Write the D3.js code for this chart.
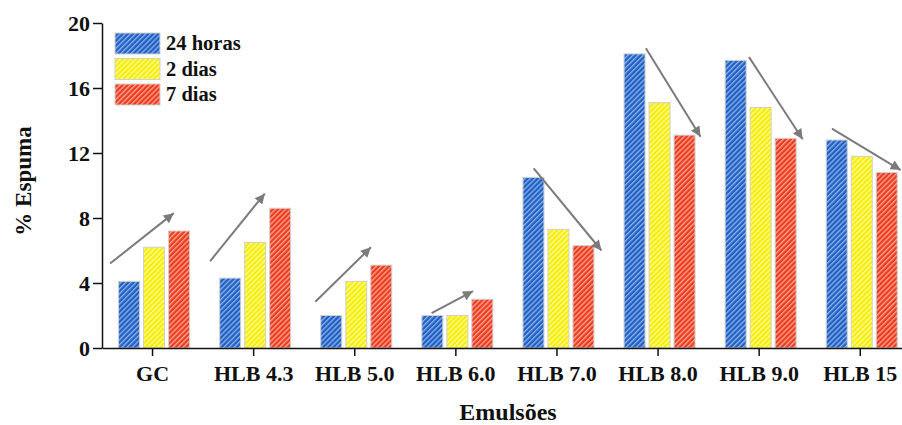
<!DOCTYPE html>
<html><head><meta charset="utf-8">
<script src="https://cdn.jsdelivr.net/npm/d3@7"></script>
<style>body{margin:0;background:#fff}svg{display:block}text{font-family:"Liberation Serif","Times New Roman",serif;font-weight:bold;fill:#111}</style>
</head><body><svg id="c" width="902" height="425"></svg>
<script>
const categories = ["GC","HLB 4.3","HLB 5.0","HLB 6.0","HLB 7.0","HLB 8.0","HLB 9.0","HLB 15"];
const seriesNames = ["24 horas","2 dias","7 dias"];
const v24h = [4.1, 4.3, 2.0, 2.0, 10.5, 18.1, 17.7, 12.8];
const v2d  = [6.2, 6.5, 4.1, 2.0, 7.3, 15.1, 14.8, 11.8];
const v7d  = [7.2, 8.6, 5.1, 3.0, 6.3, 13.1, 12.9, 10.8];
const yTicks = [0,4,8,12,16,20];
// arrows: [category index, start offset (band fraction), start value, end offset, end value]
const arrows = [
  [0,-0.42,5.2, 0.21,8.3],
  [1,-0.43,5.35,0.11,9.5],
  [2,-0.39,2.85,0.16,6.2],
  [3,-0.24,2.15,0.17,3.5],
  [4,-0.23,11.05,0.44,6.0],
  [5,-0.12,18.45,0.42,13.0],
  [6,-0.10,17.9,0.43,12.85],
  [7,-0.28,13.5,0.40,10.95]
];
const baseColors = ["#1f5fc6","#f6ee00","#ef3b1d"];
const stripeColors = ["#8fb4e6","#fffaa6","#f7a898"];

const series = [v24h, v2d, v7d];
const svg = d3.select("#c");
const margin = {left:102, top:23, bottom:348};
const step = 101.1;
const x = d3.scaleBand().domain(categories).range([margin.left, margin.left + step*categories.length]).paddingInner(0).paddingOuter(0);
const y = d3.scaleLinear().domain([0,20]).range([margin.bottom, margin.top]);
const xs = d3.scaleBand().domain(d3.range(3)).range([-34, 37]).paddingInner(0.16);

const defs = svg.append("defs");
baseColors.forEach((c,i)=>{
  const p = defs.append("pattern").attr("id","h"+i).attr("patternUnits","userSpaceOnUse")
    .attr("width",3.6).attr("height",3.6).attr("patternTransform","rotate(45)");
  p.append("rect").attr("width",3.6).attr("height",3.6).attr("fill",c);
  p.append("rect").attr("width",1.3).attr("height",3.6).attr("fill",stripeColors[i]);
});
defs.append("marker").attr("id","arr").attr("viewBox","0 0 10 10").attr("refX",10).attr("refY",5)
  .attr("markerWidth",6.5).attr("markerHeight",5).attr("markerUnits","strokeWidth").attr("orient","auto")
  .append("path").attr("d","M0,0 L10,5 L0,10 Z").attr("fill","#7b7b7b");

// bars
series.forEach((vals,si)=>{
  svg.append("g").selectAll("rect").data(vals).join("rect")
    .attr("x",(d,i)=>x(categories[i])+x.bandwidth()/2+xs(si))
    .attr("width",xs.bandwidth())
    .attr("y",d=>y(d)).attr("height",d=>y(0)-y(d))
    .attr("fill","url(#h"+si+")").attr("stroke","#cfcfcf").attr("stroke-width",1);
});

// arrows
svg.append("g").selectAll("line").data(arrows).join("line")
  .attr("x1",d=>x(categories[d[0]])+x.bandwidth()/2+d[1]*step)
  .attr("y1",d=>y(d[2]))
  .attr("x2",d=>x(categories[d[0]])+x.bandwidth()/2+d[3]*step)
  .attr("y2",d=>y(d[4]))
  .attr("stroke","#7b7b7b").attr("stroke-width",2).attr("marker-end","url(#arr)");

// axes
const yAxis = svg.append("g").attr("transform",`translate(${margin.left},0)`)
  .call(d3.axisLeft(y).tickValues(yTicks).tickSize(9).tickPadding(3).tickSizeOuter(0));
yAxis.selectAll("text").style("font-size","22px").attr("dy","0.34em");
const xAxis = svg.append("g").attr("transform",`translate(0,${margin.bottom})`)
  .call(d3.axisBottom(x).tickSize(8).tickPadding(9).tickSizeOuter(0));
xAxis.selectAll("text").style("font-size","22px");
svg.selectAll(".domain, .tick line").attr("stroke","#111").attr("stroke-width",1.5);

// axis titles
svg.append("text").attr("x",508).attr("y",420).attr("text-anchor","middle").style("font-size","24px").text("Emulsões");
svg.append("text").attr("transform","translate(31,181) rotate(-90)").attr("text-anchor","middle").style("font-size","23px").text("% Espuma");

// legend
const lg = svg.append("g").attr("transform","translate(115,33)");
seriesNames.forEach((n,i)=>{
  const g = lg.append("g").attr("transform",`translate(0,${i*25.5})`);
  g.append("rect").attr("width",45).attr("height",21).attr("fill","url(#h"+i+")").attr("stroke","#cfcfcf");
  g.append("text").attr("x",51).attr("y",17).style("font-size","20.5px").text(n);
});
</script></body></html>
